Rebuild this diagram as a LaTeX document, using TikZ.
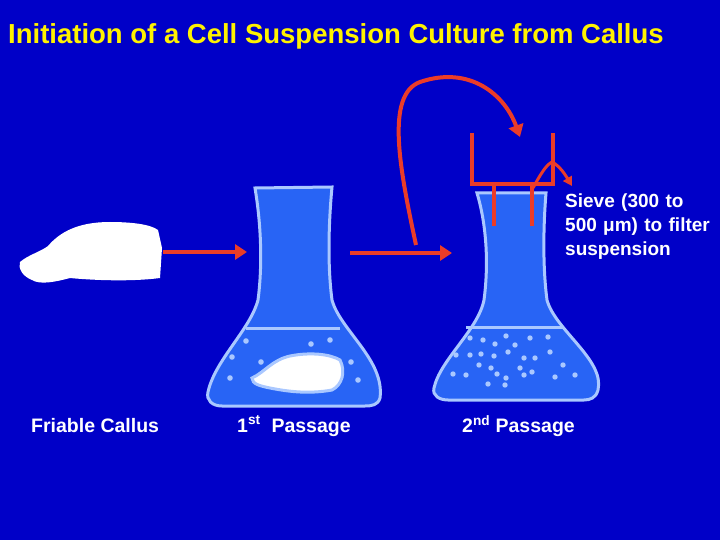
\documentclass[tikz,border=0pt]{standalone}
\usepackage{fontspec}
\setmainfont{Liberation Sans}
\usetikzlibrary{arrows.meta}
\begin{document}
\begin{tikzpicture}[x=1pt,y=-1pt,
  flask/.style={fill=flaskblue,draw=rim,line width=3pt},
  redarrow/.style={draw=arrowred,line width=4pt,-{Triangle[length=12pt,width=15pt]}},
  redline/.style={draw=arrowred,line width=3.5pt},
  dot/.style={fill=rim,draw=none},
  lbl/.style={text=white,font=\bfseries\fontsize{19.5}{24}\selectfont,anchor=west,inner sep=0pt}]
\definecolor{bg}{RGB}{0,0,200}
\definecolor{flaskblue}{RGB}{40,100,245}
\definecolor{rim}{RGB}{170,200,255}
\definecolor{arrowred}{RGB}{235,60,40}
\fill[bg] (0,0) rectangle (720,540);
\useasboundingbox (0,0) rectangle (720,540);
\node[text=yellow,font=\bfseries\fontsize{27.5}{32}\selectfont,anchor=west,inner sep=0pt] (title) at (8,36) {Initiation of a Cell Suspension Culture from Callus};
% callus
\fill[white] (20,262) .. controls (28,255) and (40,252) .. (48,246) .. controls (60,232) and (78,222) .. (110,222) .. controls (130,222) and (150,224) .. (158,230) -- (162,248) -- (160,278) .. controls (130,282) and (90,280) .. (70,278) .. controls (55,282) and (40,285) .. (32,280) .. controls (22,276) and (18,268) .. (20,262) -- cycle;
% flask 1
\path[flask] (255,188) -- (332,187) .. controls (328,230) and (328,270) .. (332,300) .. controls (340,330) and (385,360) .. (380,398) .. controls (378,405) and (372,406) .. (365,406) -- (222,406) .. controls (212,406) and (206,400) .. (208,392) .. controls (215,360) and (250,330) .. (258,300) .. controls (262,270) and (262,230) .. (255,188) -- cycle;
\draw[rim,line width=3pt] (246,328) -- (340,328);
\fill[white,draw=rim,line width=3pt] (252,378) .. controls (265,372) and (272,360) .. (290,356) .. controls (310,352) and (330,354) .. (340,360) .. controls (346,372) and (342,385) .. (332,390) .. controls (310,394) and (290,392) .. (270,388) .. controls (260,386) and (252,384) .. (252,378) -- cycle;
\foreach \p in {(246,341),(311,344),(330,340),(232,357),(261,362),(230,378),(351,362),(358,380)} \fill[dot] \p circle (2.8);
% flask 2
\path[flask] (477,193) -- (546,193) .. controls (543,230) and (543,270) .. (547,300) .. controls (555,330) and (605,360) .. (598,390) .. controls (596,398) and (590,400) .. (584,400) -- (448,400) .. controls (440,400) and (432,396) .. (434,388) .. controls (440,360) and (478,330) .. (484,300) .. controls (488,270) and (488,230) .. (477,193) -- cycle;
\draw[rim,line width=3pt] (466,327) -- (564,327);
\foreach \p in {(470,338),(483,340),(506,336),(530,338),(548,337),(495,344),(515,345),(456,355),(470,355),(481,354),(494,356),(508,352),(524,358),(535,358),(550,352),(479,365),(491,368),(497,374),(506,378),(520,368),(532,372),(563,365),(453,374),(466,375),(488,384),(505,385),(524,375),(555,377),(575,375)} \fill[dot] \p circle (2.7);
% sieve
\draw[redline] (472,133) -- (472,184) -- (553,184) -- (553,133);
\draw[redline] (494,184) -- (494,226);
\draw[redline] (532,184) -- (532,226);
\draw[draw=arrowred,line width=3pt,-{Triangle[length=9pt,width=10pt]}] (533,188) .. controls (540,175) and (546,165) .. (552,162) .. controls (560,166) and (566,176) .. (572,186);
% arrows
\coordinate (a1s) at (163,252); \coordinate (a1e) at (247,252);
\draw[redarrow] (a1s) -- (a1e);
\coordinate (a2s) at (350,253); \coordinate (a2e) at (452,253);
\draw[redarrow] (a2s) -- (a2e);
\coordinate (cs) at (416,245); \coordinate (ce) at (520,137);
\draw[redarrow] (cs) .. controls (400,170) and (385,95) .. (420,82) .. controls (470,65) and (505,95) .. (ce);
% labels
\node[lbl,font=\bfseries\fontsize{19}{24}\selectfont,align=left,text width=160pt] (sieve) at (565,227) {Sieve (300 to\\500 μm) to filter\\suspension};
\node[lbl] (l1) at (31,426) {Friable Callus};
\node[lbl] (l2) at (237,426) {1\textsuperscript{st}\ \ Passage};
\node[lbl] (l3) at (462,426) {2\textsuperscript{nd} Passage};
\end{tikzpicture}
\end{document}
